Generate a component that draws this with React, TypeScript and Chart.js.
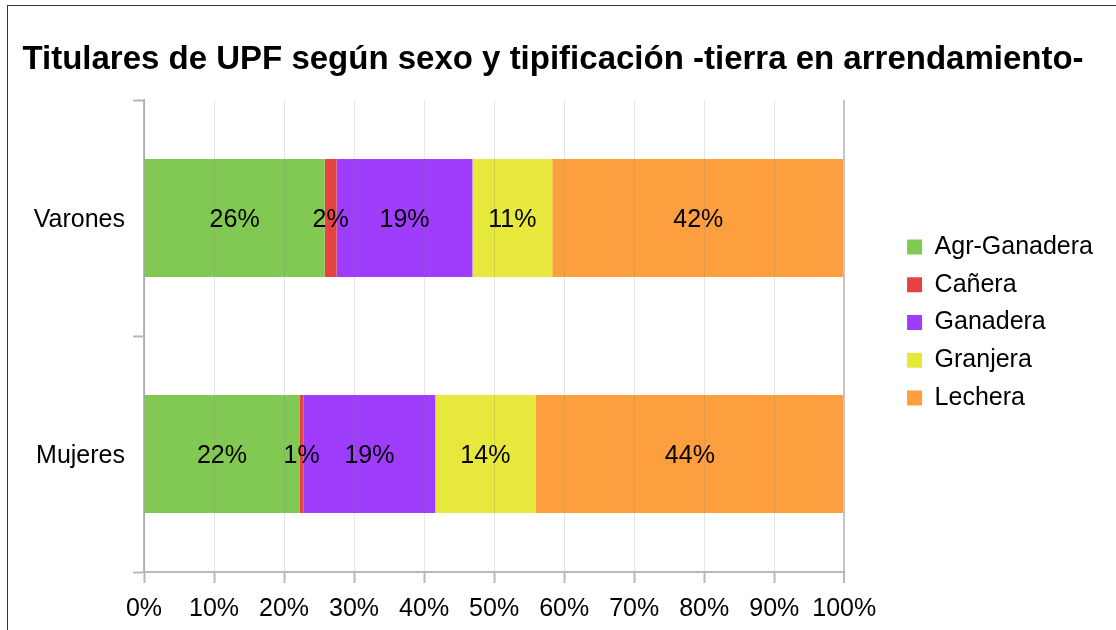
import { useEffect, useRef } from "react";
import { Chart, registerables } from "chart.js";

Chart.register(...registerables);

const titleText = "Titulares de UPF según sexo y tipificación -tierra en arrendamiento-";
const categories = ["Varones", "Mujeres"];
const seriesNames = ["Agr-Ganadera", "Cañera", "Ganadera", "Granjera", "Lechera"];
const agrGanadera = [25.8, 22.2];
const canera = [1.7, 0.6];
const ganadera = [19.4, 18.8];
const granjera = [11.4, 14.3];
const lechera = [41.7, 44.1];
const seriesColors = ["#81c953", "#e54242", "#9f3dfd", "#e7e83c", "#fe9f3f"];

const FONT = "'Liberation Sans', Arial, sans-serif";

const segmentLabels = {
  id: "segmentLabels",
  afterDatasetsDraw(chart: any) {
    const ctx = chart.ctx;
    ctx.save();
    ctx.font = `25px ${FONT}`;
    ctx.fillStyle = "#000";
    ctx.textAlign = "center";
    ctx.textBaseline = "middle";
    chart.data.datasets.forEach((ds: any, di: number) => {
      const meta = chart.getDatasetMeta(di);
      meta.data.forEach((el: any, i: number) => {
        const v = ds.data[i];
        const p = el.getCenterPoint();
        ctx.fillText(`${Math.round(v)}%`, p.x, p.y + 2);
      });
    });
    ctx.restore();
  },
};

export default function App() {
  const ref = useRef<HTMLCanvasElement>(null);

  useEffect(() => {
    const values = [agrGanadera, canera, ganadera, granjera, lechera];
    const chart = new Chart(ref.current as HTMLCanvasElement, {
      type: "bar",
      data: {
        labels: categories,
        datasets: seriesNames.map((name, i) => ({
          label: name,
          data: values[i],
          backgroundColor: seriesColors[i],
          borderColor: seriesColors[i],
          borderWidth: 0,
          barPercentage: 0.5,
          categoryPercentage: 1,
        })),
      },
      options: {
        indexAxis: "y",
        responsive: false,
        maintainAspectRatio: false,
        devicePixelRatio: 1,
        animation: false,
        layout: { padding: { left: 3, right: 13, top: 0, bottom: 8 } },
        plugins: {
          title: {
            display: true,
            text: titleText,
            color: "#000",
            font: { family: FONT, size: 33, weight: "bold", lineHeight: 1.2 },
            padding: { top: 40.5, bottom: 19.9 },
          },
          legend: {
            display: true,
            position: "right",
            align: "center",
            fullSize: true,
            maxWidth: 400,
            title: { display: true, text: "", font: { size: 23, lineHeight: 1 }, padding: 0 },
            labels: {
              boxWidth: 15,
              boxHeight: 15,
              padding: 12.8,
              color: "#000",
              font: { family: FONT, size: 25 },
            },
          },
          tooltip: { enabled: false },
        },
        scales: {
          x: {
            stacked: true,
            min: 0,
            max: 100,
            afterFit: (s: any) => {
              s.height = 50;
            },
            ticks: {
              stepSize: 10,
              color: "#000",
              padding: 11,
              font: { family: FONT, size: 25, lineHeight: 1.2 },
              callback: (v: any) => `${v}%`,
            },
            grid: {
              z: 1,
              color: (c: any) => (c.tick && c.tick.value === 100 ? "#c4c4c4" : "rgba(128,128,128,0.2)"),
              lineWidth: (c: any) => (c.tick && c.tick.value === 100 ? 2 : 1),
              tickColor: "#b8b8b8",
              tickLength: 11,
              tickWidth: 2,
            },
            border: { display: true, color: "#b8b8b8", width: 2, z: 1 },
          },
          y: {
            stacked: true,
            afterFit: (s: any) => {
              s.width = 141;
            },
            ticks: {
              color: "#000",
              padding: 8,
              labelOffset: 2,
              font: { family: FONT, size: 25 },
            },
            grid: {
              display: true,
              offset: true,
              drawOnChartArea: false,
              tickLength: 11,
              tickColor: "#b8b8b8",
              tickWidth: 2,
            },
            border: { display: true, color: "#b8b8b8", width: 2 },
          },
          pad: {
            type: "linear",
            position: "right",
            display: true,
            grid: { display: false, drawTicks: false },
            ticks: { display: false },
            border: { display: false },
            afterFit: (s: any) => {
              s.width = 50;
            },
          },
        },
      } as any,
      plugins: [segmentLabels],
    });
    return () => chart.destroy();
  }, []);

  return (
    <div
      style={{
        position: "fixed",
        left: 0,
        top: 0,
        width: 1116,
        height: 630,
        background: "#fff",
        overflow: "hidden",
      }}
    >
      <div
        style={{
          position: "absolute",
          left: 7,
          top: 5,
          width: 2000,
          height: 2000,
          borderTop: "1px solid #333",
          borderLeft: "1px solid #333",
        }}
      />
      <canvas
        ref={ref}
        width={1116}
        height={630}
        style={{ position: "absolute", left: 0, top: 0, width: 1116, height: 630 }}
      />
    </div>
  );
}
